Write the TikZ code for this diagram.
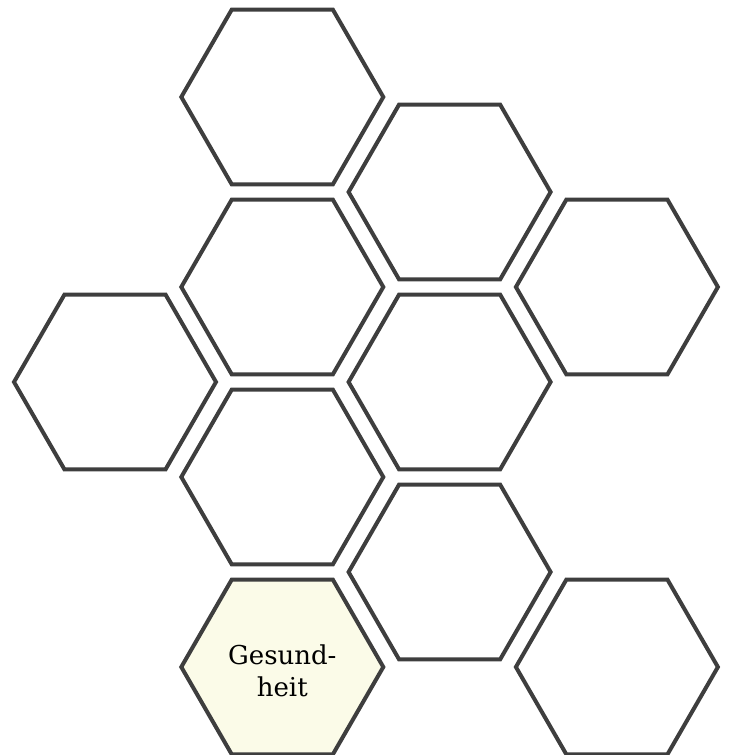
\documentclass[tikz,border=0pt]{standalone}
\usepackage{fontspec}
\setmainfont{DejaVu Serif}
\usetikzlibrary{shapes.geometric}
\definecolor{hexline}{RGB}{62,62,62}
\definecolor{hexfill}{RGB}{251,251,232}
\begin{document}
\begin{tikzpicture}[x=0.5pt,y=-0.5pt,every node/.style={font=\fontsize{13}{16}\selectfont},
  hexa/.style={draw=hexline,line width=2pt,regular polygon,regular polygon sides=6,minimum size=101pt,inner sep=0pt,outer sep=0pt}]
\useasboundingbox (0,0) rectangle (729,755);
% honeycomb: ten cells on a staggered grid, one of them filled
\foreach \i/\c/\r in {0/1/0,1/2/1,2/1/2,3/3/2,4/0/3,5/2/3,6/1/4,7/2/5,8/3/6} {\node[hexa] (h\i) at (115+167.3*\c,97+95*\r) {};}
\node[hexa,fill=hexfill,align=center] (h9) at (115+167.3,97+95*6) {};
\node[align=center] (h9text) at ([yshift=-2pt]h9.center) {Gesund-\\heit};
\end{tikzpicture}
\end{document}
